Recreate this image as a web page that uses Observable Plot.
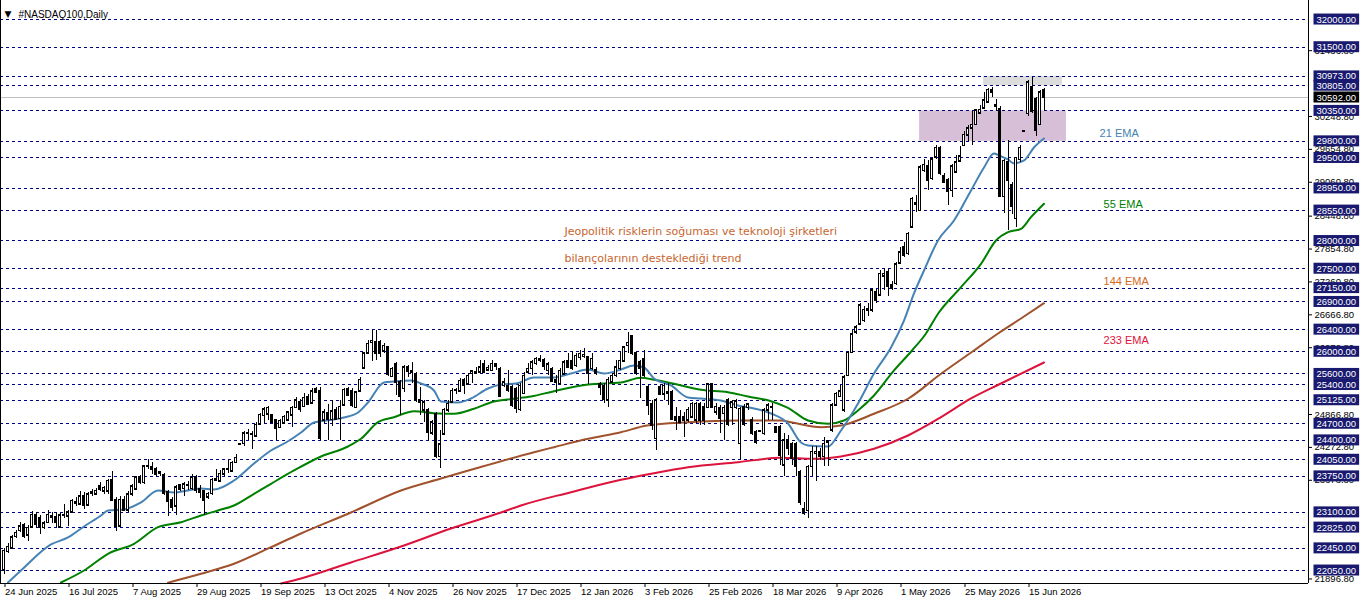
<!DOCTYPE html>
<html><head><meta charset="utf-8">
<script src="https://cdn.jsdelivr.net/npm/d3@7"></script>
<script src="https://cdn.jsdelivr.net/npm/@observablehq/plot@0.6"></script>
<style>html,body{margin:0;padding:0;background:#fff;overflow:hidden}svg{display:block}</style>
</head><body><div id="chart"></div>
<script>
// ---- candle data (daily bars, index 0 = 24 Jun 2025) ----
const openP = [22050,22390,22450,22660,22770,22880,22690,22830,23050,22990,22820,22910,23040,23020,22830,23040,23030,23100,23290,23250,23400,23230,23440,23430,23580,23480,23480,23690,23330,22850,23330,23140,23430,23520,23730,23630,23930,23910,23880,23820,23780,23460,23330,23210,23590,23530,23590,23530,23730,23520,23480,23370,23440,23670,23660,23790,23880,23840,24000,24330,24340,24520,24520,24470,24690,24840,24870,24850,24760,24630,24710,24760,24850,24990,25090,25010,25180,25070,25330,25290,24760,24890,24770,24940,24790,25030,25330,25300,24990,25290,25700,25970,26160,26170,26170,26010,26080,25550,25770,25450,25330,25720,25630,25600,25120,24940,24940,24530,24880,24100,24510,24940,25090,25300,25290,25490,25410,25600,25630,25630,25770,25670,25660,25770,25690,25390,25390,25360,25330,24950,25240,25630,25690,25780,25870,25850,25660,25690,25490,25420,25590,25830,25840,25750,25890,25910,25900,25690,25670,25420,25390,25120,25450,25570,25690,25830,26110,26280,25970,25810,25870,25370,25060,24430,25370,25230,25270,25270,24820,24820,24820,24760,24820,24760,25050,25010,24990,25410,24910,24990,24880,25120,24990,24990,24340,25010,24990,24760,24550,24565,24520,24940,24990,24640,24640,23950,24400,24340,24340,23830,23160,23130,23920,24160,24190,24100,24370,24580,25030,25190,24940,25570,25980,26350,26500,26560,26750,26750,27080,27020,27360,27440,27200,27230,27600,27890,27770,28250,28660,28550,29270,29350,29120,29510,29680,29180,29100,28910,29240,29440,29720,29910,30040,30100,30310,30400,30510,30730,30450,30390,28800,29420,29020,28400,29470,29975,30300,30780,30570,30100,30730];
const highP = [22440,22540,22680,22770,22920,22900,22860,23110,23100,23040,22930,23130,23100,23100,23080,23240,23140,23330,23370,23470,23450,23450,23520,23530,23640,23570,23700,23830,23360,23380,23380,23470,23600,23750,23760,23950,24050,24000,23910,23840,23800,23490,23360,23580,23610,23630,23650,23790,23760,23580,23500,23460,23710,23880,23850,23900,24030,24020,24140,24350,24560,24600,24560,24720,24880,25000,25010,24860,24770,24770,24850,24930,25010,25170,25130,25250,25230,25330,25360,25360,24950,25050,25120,24990,25120,25330,25360,25330,25290,25540,25990,26200,26380,26380,26200,26140,26100,25720,25810,25480,25750,25750,25810,25630,25360,25120,24970,24760,24910,24580,24970,25120,25330,25330,25510,25510,25600,25670,25720,25850,25850,25750,25850,25790,25710,25510,25660,25390,25360,25420,25630,25780,25840,25900,25930,25870,25810,25720,25570,25690,25840,25960,25990,25960,26020,26050,25910,25960,25720,25450,25420,25530,25600,25840,25990,26090,26340,26290,25990,25840,26020,25390,25120,25150,25390,25420,25420,25300,24990,24940,24910,24990,25090,25090,25090,25060,25420,25430,25060,25030,25030,25150,25120,25130,25000,25050,25070,24810,24580,24570,24970,25070,25070,24650,24670,24520,24490,24370,24370,23860,23270,23950,24280,24280,24250,24450,24400,25060,25270,25390,25570,26010,26380,26470,26870,26810,26870,27140,27120,27460,27500,27480,27260,27620,27890,27980,28160,28790,28820,29360,29480,29450,29510,29720,29710,29210,29120,29380,29540,29710,29970,30090,30340,30370,30450,30690,30750,30780,30550,30420,29470,29820,29060,29510,29720,29985,30900,30960,30600,30720,30750];
const lowP = [21980,22360,22440,22620,22740,22630,22580,22820,22830,22700,22790,22890,22890,22820,22800,22990,22850,23080,23210,23230,23160,23200,23390,23400,23470,23430,23420,23300,22760,22820,23110,23100,23380,23510,23600,23610,23880,23790,23740,23740,23400,23030,23120,23050,23470,23380,23500,23500,23440,23350,23040,23330,23410,23650,23640,23740,23800,23820,23980,24320,24290,24400,24230,24450,24680,24700,24750,24700,24400,24610,24690,24740,24640,24970,24910,24990,25030,25050,25240,24390,24700,24400,24650,24750,24400,25010,25190,25000,24970,25270,25690,25960,25830,25840,25890,25960,25550,25530,25210,24850,25270,25540,25420,25090,24850,24730,24390,24490,24080,23890,24490,24910,25060,25230,25270,25230,25390,25420,25590,25610,25600,25660,25650,25660,25170,25360,25270,24990,24880,24930,25230,25600,25570,25750,25810,25660,25570,25450,25250,25390,25570,25690,25660,25720,25850,25870,25410,25660,25570,25210,25070,25000,25420,25540,25660,25810,25960,25930,25570,25150,25540,24850,24580,24220,25210,25120,25030,24750,24570,24700,24450,24730,24790,24700,24670,24670,24970,24970,24850,24520,24390,24650,24670,24950,24040,24650,24940,24490,24330,24555,24490,24760,24760,24520,23950,23750,24130,23950,23740,23220,23040,22980,23740,23650,24040,23920,23920,24550,25010,25180,24910,25550,25960,26320,26470,26530,26630,26710,26870,26990,27110,26990,27110,27200,27580,27710,27740,28220,28520,28540,29240,28910,29090,29480,29180,29030,28640,28790,29210,29420,29710,29790,29720,30090,30300,30390,30490,30600,30330,28780,28490,28190,28480,28240,29420,29970,30250,30300,29890,30090,30360];
const closeP = [22410,22480,22650,22730,22850,22660,22820,23060,22880,22820,22900,23060,23000,22910,23050,23050,23100,23310,23260,23390,23220,23430,23460,23490,23520,23540,23670,23320,22850,23330,23140,23430,23570,23730,23630,23930,23940,23880,23790,23800,23440,23290,23180,23550,23510,23610,23600,23730,23500,23460,23310,23440,23690,23700,23800,23880,23890,24000,24090,24340,24530,24530,24500,24680,24860,24960,24990,24730,24610,24750,24830,24910,24990,25120,24950,25170,25050,25290,25270,24430,24910,24770,24930,24770,25010,25310,25210,25030,25270,25490,25970,26140,26200,25960,25960,26110,25590,25690,25450,25190,25720,25650,25660,25120,25090,25090,24550,24730,24100,24330,24950,25060,25300,25310,25480,25390,25570,25650,25600,25720,25630,25710,25780,25730,25190,25450,25300,25030,24970,25390,25570,25690,25810,25870,25840,25730,25770,25470,25450,25660,25810,25720,25690,25930,25960,25950,25600,25870,25600,25360,25130,25490,25570,25720,25840,26080,26160,25960,25610,25690,25570,25030,24670,25120,25230,25390,25250,24770,24760,24730,24760,24950,25060,25060,24760,24760,25410,24990,25010,24790,24990,24690,25090,25110,24970,24690,25050,24520,24370,24560,24940,25030,25000,24550,24130,24400,24250,24080,23920,23270,23080,23920,24190,24190,24100,24340,24380,25030,25240,25290,25540,25980,26320,26440,26840,26760,26780,27110,26930,27410,27410,27170,27140,27580,27800,27740,28130,28760,28680,29330,29380,29090,29480,29680,29210,29060,28900,29350,29420,29530,29920,30040,30100,30360,30370,30540,30730,30690,30420,28800,29450,29090,28620,29500,29680,29980,30870,30330,30000,30690,30592];

// ---- x axis labels (every 16 bars) ----
const dateLabels = ["24 Jun 2025","16 Jul 2025","7 Aug 2025","29 Aug 2025","19 Sep 2025","13 Oct 2025","4 Nov 2025","26 Nov 2025","17 Dec 2025","12 Jan 2026","3 Feb 2026","25 Feb 2026","18 Mar 2026","9 Apr 2026","1 May 2026","25 May 2026","15 Jun 2026"];
const labelBars = [0,16,32,48,64,80,96,112,128,144,160,176,192,208,224,240,256];

// ---- price axis ----
const plainTicks = [31436.8,30248.8,29654.8,29060.8,28448.8,27854.8,27260.8,26666.8,26072.8,24866.8,24272.8,23678.8,21896.8];
const levels = [32000,31500,30973,30805,30350,29800,29500,28950,28550,28000,27500,27150,26900,26400,26000,25600,25400,25125,24700,24400,24050,23750,23100,22825,22450,22050];
const currentPrice = [30592];

// ---- moving averages (read at sample bars) ----
const ema21Bar = [1,4.25,11.75,16,20,24.25,26,30,34.25,38.5,42.5,46,49.25,52.5,57.5,62.5,66.75,70.5,74.25,77.5,82.5,85,88.5,91,95,97.5,101.75,104.25,107.5,109.25,113.5,116.75,121,124.25,128,132.5,137.5,141.75,146,150,154.25,157.5,160,162.5,166.75,171,174.25,179.25,183.5,187.5,191.75,196,199.25,201,206,209.25,213.5,217.5,221.75,225,227.5,230,233.5,237.5,241.75,245,247.5,248.75,251,252.5,255,257.5,260];
const ema21Val = [21833,22050,22520,22646,22845,23043,23134,23152,23278,23495,23459,23495,23531,23513,23675,23982,24217,24361,24542,24723,24777,24813,24903,25084,25445,25463,25481,25427,25300,25102,25084,25156,25337,25409,25427,25535,25535,25607,25680,25607,25680,25752,25716,25517,25391,25174,25156,25120,25030,24975,24885,24705,24361,24307,24289,24578,25066,25607,26077,26564,27052,27467,28009,28370,28912,29327,29580,29544,29472,29400,29454,29689,29851];
const ema55Bar = [14.25,20,26,32.5,38.5,44.25,49.25,53.5,57.5,62.5,66.75,72.5,79.25,86,89.25,93.5,97.5,102.5,107.5,112.5,117.5,122.5,127.5,131.75,137.5,146,154.25,159.25,162.5,167.5,174.25,181,186,191.75,196,201,206,210,213.5,217.5,222.5,227,230.5,233.5,239.25,244.25,248,251,254.25,256.75,260];
const ema55Val = [21833,22050,22352,22532,22832,22922,23043,23134,23224,23435,23616,23856,24109,24289,24428,24728,24818,24927,24891,24880,24970,25102,25151,25192,25288,25409,25445,25530,25494,25422,25313,25270,25192,25107,24988,24759,24699,24759,24939,25210,25662,26023,26330,26686,27166,27588,28009,28159,28220,28430,28672];
const ema144Bar = [41,49.25,57.5,66.75,74.25,86.75,99.25,109.25,116.75,132.5,137.5,146,154.25,160.75,171,183.5,194.25,196.75,204.25,209.25,217.5,226,234.25,242.5,248.5,254.25,260];
const ema144Val = [21830,21990,22171,22471,22718,23097,23495,23711,23868,24186,24277,24428,24548,24668,24728,24759,24759,24728,24638,24668,24880,25151,25602,26023,26330,26601,26877];
const ema233Bar = [69.25,74.25,86.75,99.25,111.75,124.25,129.25,141.75,154.25,162.5,171,183.5,194.25,202.5,209.25,217.5,226,234.25,241.75,249.25,260];
const ema233Val = [21815,21906,22195,22483,22808,23097,23224,23464,23688,23807,23915,24006,24085,24067,24109,24248,24488,24818,25156,25427,25806];

// ---- zones and notes (data coordinates: bar index, price) ----
const pinkZone = [{b1: 228.9, b2: 265.6, p1: 29800, p2: 30350}];
const grayZone = [{b1: 244.9, b2: 264.6, p1: 30805, p2: 30973}];
const emaNames = ["21 EMA","55 EMA","144 EMA","233 EMA"];
const emaNameBar = [273.9, 274.9, 274.9, 274.9];
const emaNamePrice = [29941, 28659, 27269, 26203];
const noteLines = ["Jeopolitik risklerin soğuması ve teknoloji şirketleri","bilançolarının desteklediği trend"];
const noteBar = [140.1, 140.1];
const notePrice = [28172, 27684];

// ---- build ----
const candles = openP.map((o, i) => ({i, o, h: highP[i], l: lowP[i], c: closeP[i]}));
const up = candles.filter(d => d.c >= d.o);
const down = candles.filter(d => d.c < d.o);
const line = (bs, vs) => bs.map((b, k) => ({b, v: vs[k]}));
const emaColors = ["#4682B4","#008000","#A0522D","#DC143C"];
const emaTextColors = ["#4682B4","#008000","#D2691E","#DC143C"];
const navy = "#000080";
const font = "'Liberation Sans', Arial, sans-serif";

const chart = Plot.plot({
  width: 1362, height: 603,
  marginLeft: 0, marginRight: 54, marginTop: 0, marginBottom: 20,
  style: {fontFamily: font, fontSize: "9.5px", background: "white", color: "black"},
  x: {domain: [-0.875, 326.125], axis: null},
  y: {domain: [21815, 32343], axis: null},
  marks: [
    Plot.rect(pinkZone, {x1: "b1", x2: "b2", y1: "p1", y2: "p2", fill: "#D8BFD8"}),
    Plot.rect(grayZone, {x1: "b1", x2: "b2", y1: "p1", y2: "p2", fill: "#DCDCDC"}),
    Plot.ruleY(levels, {stroke: navy, strokeDasharray: "3,3", shapeRendering: "crispEdges"}),
    Plot.ruleY(currentPrice, {stroke: "#C0C0C0", shapeRendering: "crispEdges"}),
    Plot.line(line(ema233Bar, ema233Val), {x: "b", y: "v", stroke: emaColors[3], strokeWidth: 2, curve: "monotone-x"}),
    Plot.line(line(ema144Bar, ema144Val), {x: "b", y: "v", stroke: emaColors[2], strokeWidth: 2, curve: "monotone-x"}),
    Plot.line(line(ema55Bar, ema55Val), {x: "b", y: "v", stroke: emaColors[1], strokeWidth: 2, curve: "monotone-x"}),
    Plot.line(line(ema21Bar, ema21Val), {x: "b", y: "v", stroke: emaColors[0], strokeWidth: 2, curve: "monotone-x"}),
    Plot.ruleX(candles, {x: "i", y1: "l", y2: "h", stroke: "black", shapeRendering: "crispEdges"}),
    Plot.rect(up, {x1: d => d.i - 0.25, x2: d => d.i + 0.25, y1: "o", y2: "c", fill: "white", stroke: "black", shapeRendering: "crispEdges"}),
    Plot.rect(down, {x1: d => d.i - 0.25, x2: d => d.i + 0.25, y1: "o", y2: "c", fill: "black", stroke: "black", shapeRendering: "crispEdges"}),
    Plot.ruleY(candles, {y: "o", x1: d => d.i - 0.375, x2: d => d.i + 0.375, stroke: "black", shapeRendering: "crispEdges"}),
    Plot.ruleY(candles, {y: "c", x1: d => d.i - 0.375, x2: d => d.i + 0.375, stroke: "black", shapeRendering: "crispEdges"}),
    Plot.text(emaNames, {x: (d, k) => emaNameBar[k], y: (d, k) => emaNamePrice[k], text: d => d, fill: (d, k) => emaTextColors[k], textAnchor: "start", fontSize: 11}),
    Plot.text(noteLines, {x: (d, k) => noteBar[k], y: (d, k) => notePrice[k], text: d => d, fill: "#C8652E", textAnchor: "start", fontSize: 11, fontFamily: "'DejaVu Sans', Verdana, sans-serif"}),
    Plot.text(["▼"], {frameAnchor: "top-left", dx: 4, dy: 10, textAnchor: "start", fontSize: 9, fill: "black", fontFamily: "'DejaVu Sans', sans-serif"}),
    Plot.text(["#NASDAQ100,Daily"], {frameAnchor: "top-left", dx: 18, dy: 10, textAnchor: "start", fontSize: 10, fill: "black"}),
    Plot.ruleX([-0.875], {stroke: "black"}),
    Plot.ruleX([326.125], {stroke: "black"}),
    Plot.ruleY([21815], {stroke: "black"}),
    Plot.axisX({ticks: labelBars, tickFormat: d => dateLabels[labelBars.indexOf(d)], textAnchor: "start", tickSize: 4, tickPadding: 1, dx: 1, fontSize: 9.5, label: null}),
    Plot.axisY({anchor: "right", ticks: plainTicks, tickFormat: d => d.toFixed(2), tickSize: 3, tickPadding: 3, fontSize: 9.5, label: null}),
    Plot.text(levels, {y: d => d, text: d => d.toFixed(2), frameAnchor: "right", dx: 8, textAnchor: "start", fill: "white", fontSize: 9.5, ariaDescription: "lvl"}),
    Plot.text(currentPrice, {y: d => d, text: d => d.toFixed(2), frameAnchor: "right", dx: 8, textAnchor: "start", fill: "white", fontSize: 9.5, ariaDescription: "cur"})
  ]
});
document.getElementById("chart").append(chart);

function boxes(desc, color) {
  d3.select(chart).selectAll(`g[aria-description="${desc}"] text`).each(function () {
    const b = this.getBBox();
    const r = document.createElementNS("http://www.w3.org/2000/svg", "rect");
    r.setAttribute("x", b.x - 3);
    r.setAttribute("y", b.y);
    r.setAttribute("width", b.width + 6);
    r.setAttribute("height", b.height);
    r.setAttribute("fill", color);
    const t = this.getAttribute("transform");
    if (t) r.setAttribute("transform", t);
    this.parentNode.insertBefore(r, this);
  });
}
boxes("lvl", "#191970");
boxes("cur", "#000000");
</script>
</body></html>
